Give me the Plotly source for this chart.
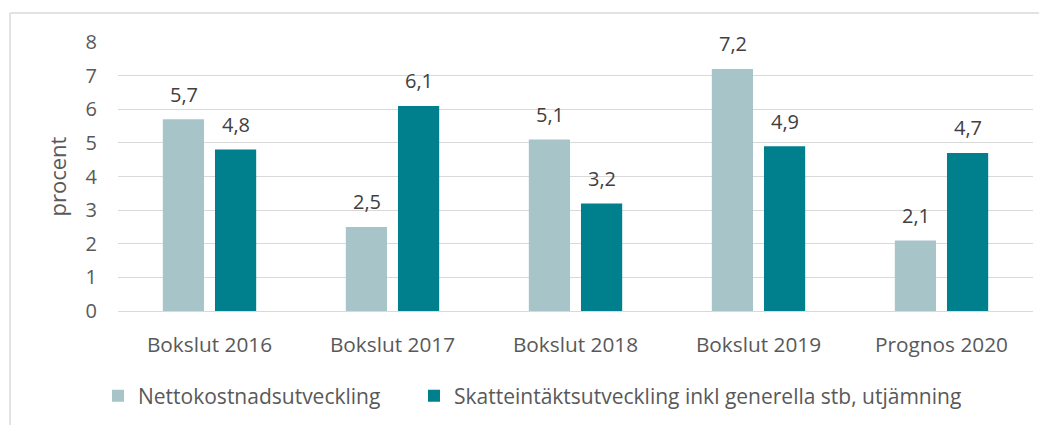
import plotly.graph_objects as go

categories = ["Bokslut 2016", "Bokslut 2017", "Bokslut 2018", "Bokslut 2019", "Prognos 2020"]
netto = [5.7, 2.5, 5.1, 7.2, 2.1]
skatt = [4.8, 6.1, 3.2, 4.9, 4.7]
series_names = ["Nettokostnadsutveckling",
                "Skatteintäktsutveckling inkl generella stb, utjämning"]
colors = ["#A7C4C9", "#00808C"]

FONT = "'Open Sans', sans-serif"
TXT = "#595959"
LBL = "#404040"

# the page body has an 8px margin, so page coordinates are offset by 8
OFF = 8
W, H = 1047, 425
PL, PR, PT, PB = 118, 1033, 42, 311   # plot area in page pixels
L = PL - OFF
T = PT - OFF
pw = PR - PL
ph = PB - PT
R = W - L - pw
B = H - T - ph

def px(x):
    return (x - PL) / pw

def py(y):
    return (PB - y) / ph

fig = go.Figure()
annotations = []
for i, (name, vals, col) in enumerate(zip(series_names, [netto, skatt], colors)):
    fig.add_trace(go.Bar(
        x=categories, y=vals, name=name, marker=dict(color=col, line=dict(width=0)),
        hoverinfo="skip", legend="legend" if i == 0 else "legend2",
    ))
    shift = -26 if i == 0 else 26
    for c, v in zip(categories, vals):
        annotations.append(dict(
            x=c, y=v, xref="x", yref="y", text=f"{v:.1f}".replace(".", ","),
            showarrow=False, xshift=shift, yshift=25, yanchor="middle", xanchor="center",
            font=dict(family=FONT, size=20, color=LBL),
        ))

leg_common = dict(orientation="h", xanchor="left", yanchor="middle", y=py(396),
                  font=dict(family=FONT, size=21, color=TXT), itemwidth=30,
                  bgcolor="rgba(0,0,0,0)")

fig.update_layout(
    width=W, height=H,
    margin=dict(l=L, r=R, t=T, b=B, pad=0, autoexpand=False),
    paper_bgcolor="white", plot_bgcolor="white",
    barmode="group", bargap=0.43, bargroupgap=0.21,
    font=dict(family=FONT, size=20, color=TXT),
    showlegend=True,
    legend=dict(x=px(98), **leg_common),
    legend2=dict(x=px(414), **leg_common),
    xaxis=dict(showgrid=False, showline=True, linecolor="#D9D9D9", linewidth=1,
               ticks="", tickfont=dict(family=FONT, size=20.8, color=TXT), ticklabelstandoff=15),
    yaxis=dict(range=[0, 8], dtick=1, showgrid=True, gridcolor="#D9D9D9", gridwidth=1,
               zeroline=True, zerolinecolor="#D9D9D9", zerolinewidth=1,
               ticks="", tickfont=dict(family=FONT, size=20, color=TXT), ticklabelstandoff=20,
               title=dict(text="procent", font=dict(family=FONT, size=22, color=TXT), standoff=12)),
    annotations=annotations,
    shapes=[
        dict(type="line", xref="paper", yref="paper", x0=px(10), x1=px(1046), y0=py(13), y1=py(13),
             line=dict(color="#D9D9D9", width=1.5)),
        dict(type="line", xref="paper", yref="paper", x0=px(10), x1=px(10), y0=py(13), y1=py(440),
             line=dict(color="#D9D9D9", width=1.5)),
    ],
)

fig.write_html("out.html")
